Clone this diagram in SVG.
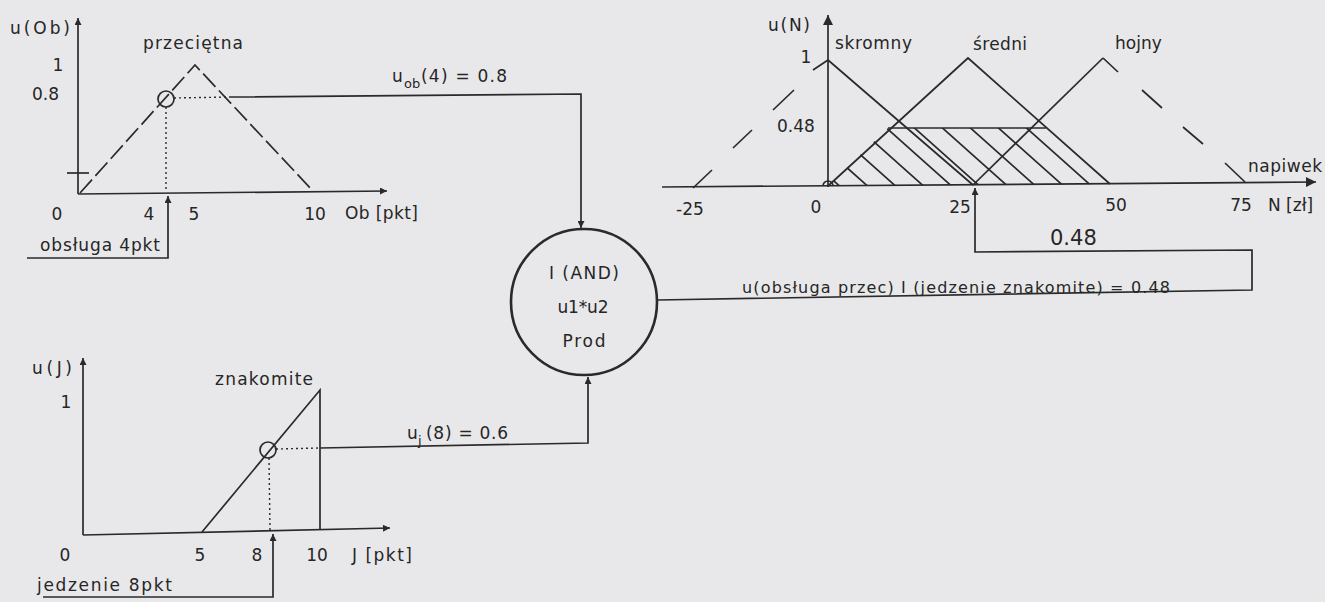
<svg xmlns="http://www.w3.org/2000/svg" width="1325" height="602" viewBox="0 0 1325 602">
<style>
.ln{fill:none;stroke:#2a2a2a;stroke-width:1.7}
.dash{fill:none;stroke:#2a2a2a;stroke-width:1.7;stroke-dasharray:18 5}
.dot{fill:none;stroke:#2a2a2a;stroke-width:1.4;stroke-dasharray:2 3}
.t{font-family:"DejaVu Sans","Liberation Sans",sans-serif;font-size:17px;fill:#262626}
.s{font-size:16px}
.sub{font-size:13px}
.m{text-anchor:middle}
</style>
<defs>
<marker id="arr" viewBox="0 0 10 10" refX="10" refY="5" markerWidth="10" markerHeight="7" markerUnits="userSpaceOnUse" orient="auto"><path d="M0,0 L10,5 L0,10 z" fill="#2a2a2a"/></marker>
<marker id="arrB" viewBox="0 0 10 10" refX="10" refY="5" markerWidth="14" markerHeight="10" markerUnits="userSpaceOnUse" orient="auto"><path d="M0,0 L10,5 L0,10 z" fill="#2a2a2a"/></marker>
<clipPath id="hc"><polygon points="828,186 888,128 1046,128 1110,184"/></clipPath>
</defs>
<rect width="1325" height="602" fill="#e8e8ea"/>

<g id="chart-ob">
<line class="ln" x1="78" y1="194" x2="78" y2="18" marker-end="url(#arr)"/>
<line class="ln" x1="78" y1="194" x2="387" y2="191" marker-end="url(#arr)"/>
<path class="dash" d="M80,193 L195,65 L313,191"/>
<line class="ln" x1="67" y1="173" x2="89" y2="173"/>
<circle class="ln" cx="166" cy="99" r="8"/>
<path class="dot" d="M174,98 L230,97 M166,107 L166,192"/>
<text class="t" x="10" y="34" textLength="60" lengthAdjust="spacing">u(Ob)</text>
<text class="t" x="143" y="49" textLength="100" lengthAdjust="spacing">przeciętna</text>
<text class="t m" x="58" y="71">1</text>
<text class="t" x="32" y="100">0.8</text>
<text class="t m" x="57" y="220">0</text>
<text class="t m" x="149" y="220">4</text>
<text class="t m" x="194" y="220">5</text>
<text class="t m" x="315" y="220">10</text>
<text class="t" x="345" y="219" textLength="73" lengthAdjust="spacing">Ob [pkt]</text>
<text class="t" x="40" y="251" textLength="120" lengthAdjust="spacing">obsługa 4pkt</text>
</g>

<g id="chart-j">
<line class="ln" x1="83" y1="535" x2="83" y2="358" marker-end="url(#arr)"/>
<line class="ln" x1="83" y1="535" x2="390" y2="528" marker-end="url(#arr)"/>
<path class="ln" d="M202,532 L320,390 L320,529"/>
<circle class="ln" cx="268" cy="450" r="8"/>
<path class="dot" d="M276,449 L320,448 M269,458 L270,530"/>
<text class="t" x="32" y="374" textLength="40" lengthAdjust="spacing">u(J)</text>
<text class="t m" x="66" y="408">1</text>
<text class="t" x="215" y="385" textLength="98" lengthAdjust="spacing">znakomite</text>
<text class="t m" x="65" y="561">0</text>
<text class="t m" x="200" y="561">5</text>
<text class="t m" x="257" y="561">8</text>
<text class="t m" x="317" y="561">10</text>
<text class="t" x="352" y="561" textLength="60" lengthAdjust="spacing">J [pkt]</text>
<text class="t" x="37" y="591" textLength="135" lengthAdjust="spacing">jedzenie 8pkt</text>
</g>

<g id="node-and">
<circle cx="584" cy="302" r="73" fill="none" stroke="#2a2a2a" stroke-width="2.6"/>
<text class="t m" x="584" y="279" textLength="70" lengthAdjust="spacing">I (AND)</text>
<text class="t m" x="583" y="313" textLength="51" lengthAdjust="spacing">u1*u2</text>
<text class="t m" x="584" y="347" textLength="43" lengthAdjust="spacing">Prod</text>
</g>

<g id="chart-n">
<line class="ln" x1="828" y1="187" x2="828" y2="15" marker-end="url(#arrB)"/>
<line class="ln" x1="662" y1="187" x2="1316" y2="182" marker-end="url(#arrB)"/>
<line class="ln" x1="828" y1="60" x2="973" y2="185"/>
<path class="ln" d="M693,188 L712,170 M733,148 L752,130 M773,110 L794,90 M813,70 L828,60"/>
<path class="ln" d="M828,186 L968,58 L1110,184"/>
<line class="ln" x1="973" y1="185" x2="1103" y2="58"/>
<path class="ln" d="M1103,58 L1118,72 M1142,90 L1162,108 M1183,127 L1203,144 M1225,163 L1245,182"/>
<line class="ln" x1="888" y1="128" x2="1046" y2="128"/>
<path class="ln" clip-path="url(#hc)" d="M770,124 L844,190 M798,124 L872,190 M826,124 L900,190 M854,124 L928,190 M882,124 L956,190 M910,124 L984,190 M938,124 L1012,190 M966,124 L1040,190 M994,124 L1068,190 M1022,124 L1096,190"/>
<path class="ln" d="M823,186 A5,5 0 0 1 833,186"/>
<text class="t" x="768" y="31" textLength="42" lengthAdjust="spacing">u(N)</text>
<text class="t" x="835" y="49" textLength="77" lengthAdjust="spacing">skromny</text>
<text class="t" x="973" y="50" textLength="54" lengthAdjust="spacing">średni</text>
<text class="t" x="1115" y="49">hojny</text>
<text class="t m" x="806" y="63">1</text>
<text class="t" x="777" y="132">0.48</text>
<text class="t" x="1248" y="172" textLength="74" lengthAdjust="spacing">napiwek</text>
<text class="t m" x="690" y="215">-25</text>
<text class="t m" x="816" y="213">0</text>
<text class="t m" x="960" y="213">25</text>
<text class="t m" x="1116" y="211">50</text>
<text class="t m" x="1241" y="211">75</text>
<text class="t" x="1268" y="211">N [zł]</text>
</g>

<g id="connectors">
<path class="ln" d="M230,97 L581,94 L581,228" marker-end="url(#arr)"/>
<path class="ln" d="M27,258 L168,258 L168,196" marker-end="url(#arr)"/>
<path class="ln" d="M320,448 L588,443 L588,377" marker-end="url(#arr)"/>
<path class="ln" d="M43,597 L273,597 L273,534" marker-end="url(#arr)"/>
<path class="ln" d="M658,300 L1252,290 L1252,250 L975,252 L975,188" marker-end="url(#arr)"/>
<text class="t" x="392" y="82">u</text>
<text class="t sub" x="404" y="88">ob</text>
<text class="t" x="421" y="82" textLength="86" lengthAdjust="spacing">(4) = 0.8</text>
<text class="t" x="407" y="439">u</text>
<text class="t sub" x="418" y="445">j</text>
<text class="t" x="426" y="439" textLength="82" lengthAdjust="spacing">(8) = 0.6</text>
<text class="t" x="1050" y="245" style="font-size:21px">0.48</text>
<text class="t s" x="742" y="293" textLength="428" lengthAdjust="spacing">u(obsługa przec) I (jedzenie znakomite) = 0.48</text>
</g>
</svg>
